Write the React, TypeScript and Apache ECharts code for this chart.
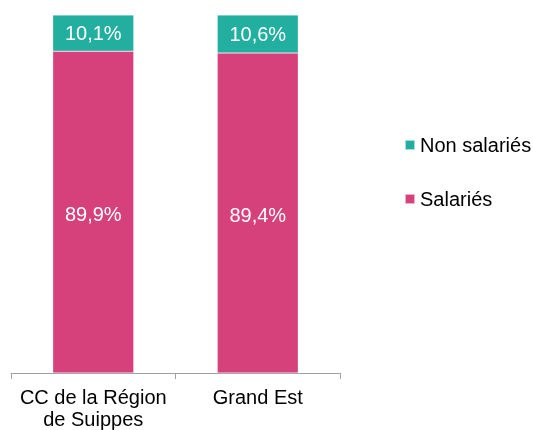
import React, { useEffect, useRef } from "react";
import * as echarts from "echarts";

const categories = ["CC de la Région\nde Suippes", "Grand Est"];
const salaries = [89.9, 89.4];
const nonSalaries = [10.1, 10.6];
const seriesNames = ["Salariés", "Non salariés"];
const colors = ["#D6407B", "#22AFA0"];

const fmt = (v: number) => v.toFixed(1).replace(".", ",") + "%";

export default function App() {
  const ref = useRef<HTMLDivElement>(null);
  useEffect(() => {
    const chart = echarts.init(ref.current!, null, { renderer: "svg" });
    const font = "Liberation Sans";
    chart.setOption({
      animation: false,
      textStyle: { fontFamily: font },
      grid: { left: 11, right: 193, top: 15, bottom: 57, containLabel: false },
      legend: {
        orient: "vertical",
        left: 399,
        top: 130,
        itemWidth: 10,
        itemHeight: 10,
        itemGap: 34,
        icon: "rect",
        data: [seriesNames[1], seriesNames[0]],
        textStyle: { fontSize: 20, color: "#000", fontFamily: font },
      },
      xAxis: {
        type: "category",
        data: categories,
        axisLine: { lineStyle: { color: "#A0A0A0", width: 1 } },
        axisTick: { show: true, length: 6, lineStyle: { color: "#A0A0A0" } },
        axisLabel: { interval: 0, fontSize: 20, color: "#000", lineHeight: 22, margin: 13, fontFamily: font },
      },
      yAxis: { type: "value", min: 0, max: 100, show: false, splitLine: { show: false } },
      series: [
        {
          name: seriesNames[0],
          type: "bar",
          stack: "t",
          barWidth: 81,
          data: salaries,
          itemStyle: { color: colors[0], borderColor: "rgba(255,255,255,0.6)", borderWidth: 0.5 },
          label: { show: true, position: "inside", offset: [0, 2], color: "#fff", fontSize: 20, fontFamily: font, formatter: (p: any) => fmt(p.value) },
        },
        {
          name: seriesNames[1],
          type: "bar",
          stack: "t",
          barWidth: 81,
          data: nonSalaries,
          itemStyle: { color: colors[1], borderColor: "rgba(255,255,255,0.6)", borderWidth: 0.5 },
          label: { show: true, position: "inside", color: "#fff", fontSize: 20, fontFamily: font, formatter: (p: any) => fmt(p.value) },
        },
      ],
    });
    return () => chart.dispose();
  }, []);
  return <div ref={ref} style={{ position: "fixed", left: 0, top: 0, width: 533, height: 430 }} />;
}
